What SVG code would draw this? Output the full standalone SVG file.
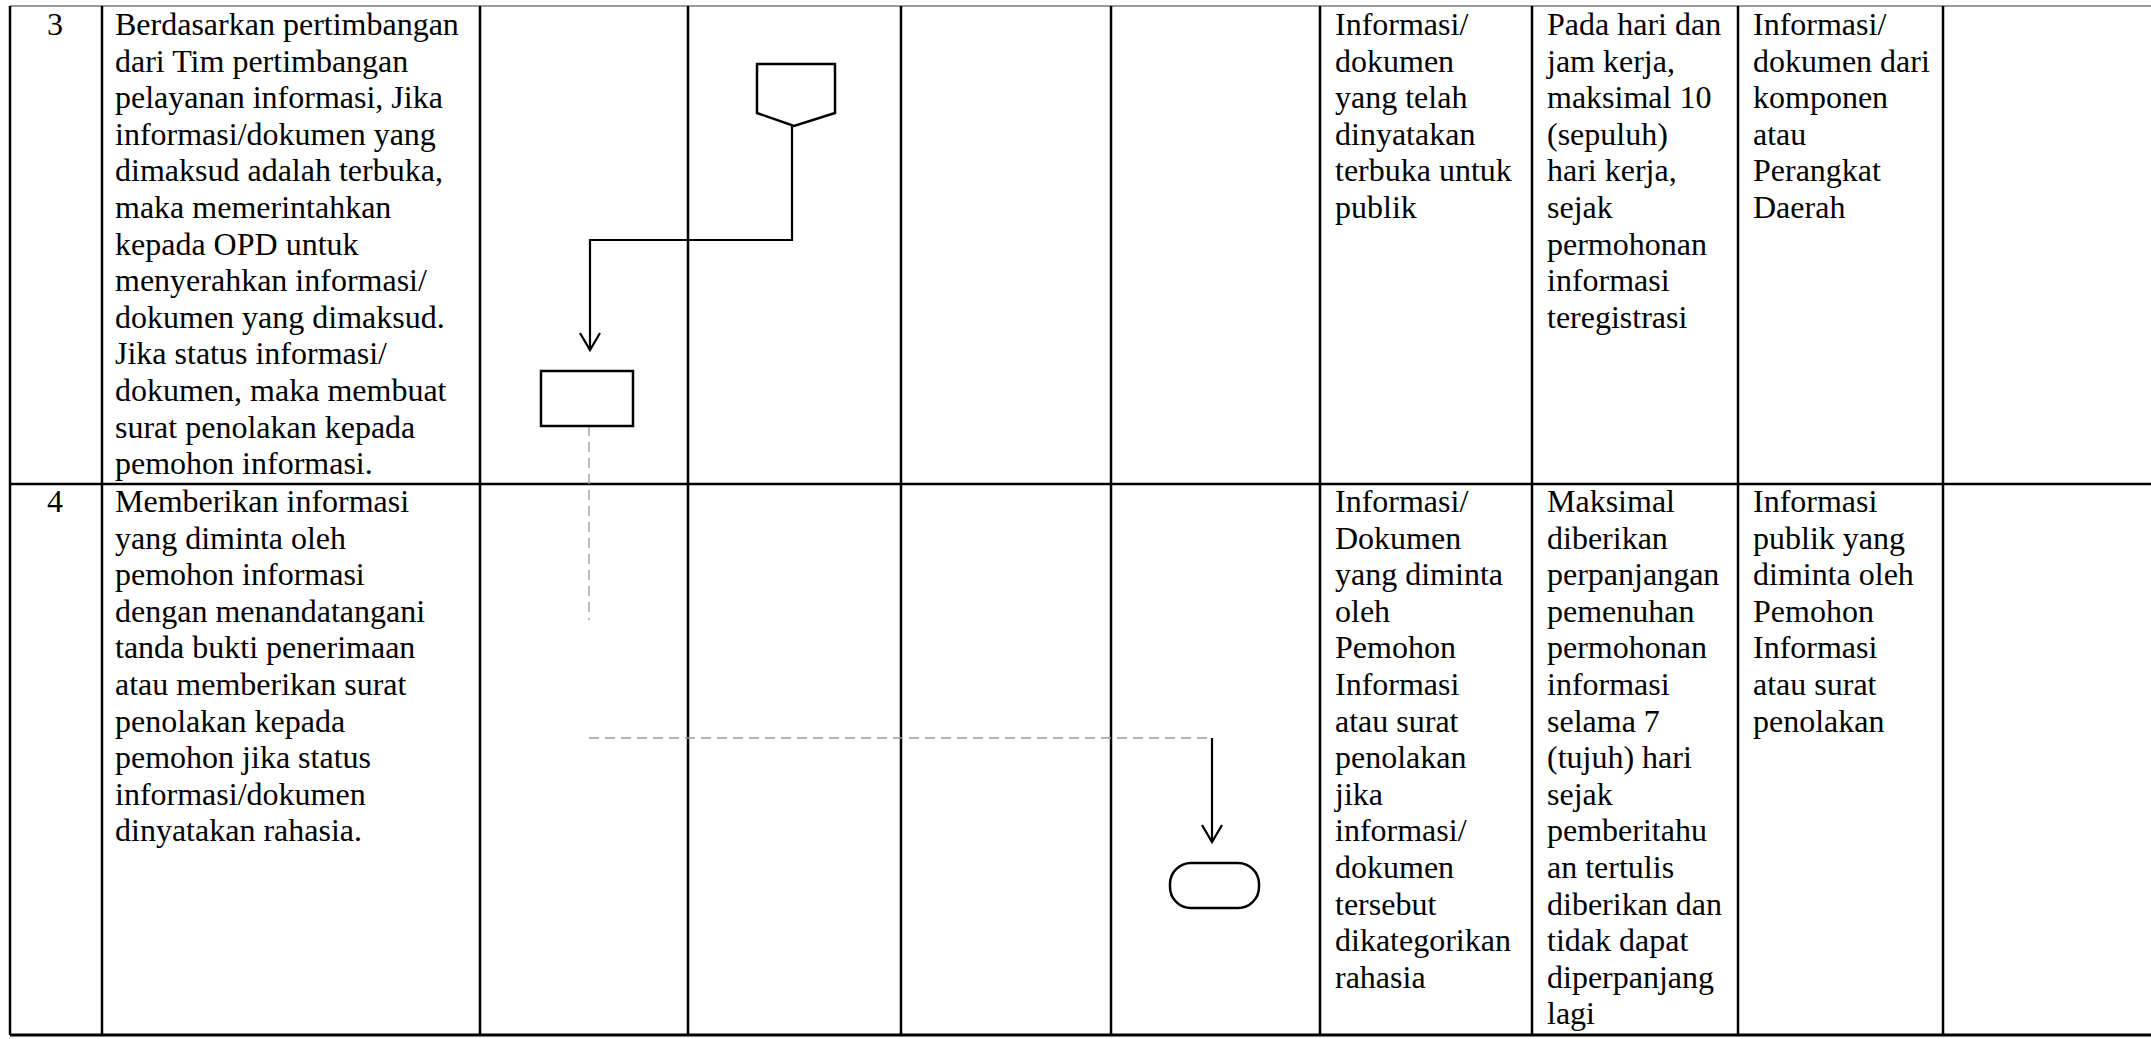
<svg xmlns="http://www.w3.org/2000/svg" width="2151" height="1039" viewBox="0 0 2151 1039">
<style>
  .grid{stroke:#000;stroke-width:2.5;fill:none}
  .top{stroke:#777;stroke-width:1.5;fill:none}
  .t{font-family:"Liberation Serif","Times New Roman",serif;font-size:32px;fill:#000}
  .num{text-anchor:middle}
  .shape{fill:#fff;stroke:#000;stroke-width:2.5}
  .conn{stroke:#000;stroke-width:2.2;fill:none}
  .faint{stroke:#999;stroke-width:1.3;fill:none;stroke-dasharray:10 6}
</style>
<defs>
  <marker id="arr" markerWidth="24" markerHeight="24" refX="20" refY="11" orient="auto" markerUnits="userSpaceOnUse">
    <path d="M3,1 L20,11 L3,21" fill="none" stroke="#000" stroke-width="2.2"/>
  </marker>
</defs>
<rect width="2151" height="1039" fill="#fff"/>

<g id="table">
  <line class="top" x1="10" y1="6" x2="2151" y2="6"/>
  <line class="grid" x1="10" y1="484" x2="2151" y2="484"/>
  <line class="grid" x1="10" y1="1035" x2="2151" y2="1035" style="stroke-width:3"/>
  <line class="grid" x1="10" y1="6" x2="10" y2="1035"/>
  <line class="grid" x1="102" y1="6" x2="102" y2="1035"/>
  <line class="grid" x1="480" y1="6" x2="480" y2="1035"/>
  <line class="grid" x1="688" y1="6" x2="688" y2="1035"/>
  <line class="grid" x1="901" y1="6" x2="901" y2="1035"/>
  <line class="grid" x1="1111" y1="6" x2="1111" y2="1035"/>
  <line class="grid" x1="1320" y1="6" x2="1320" y2="1035"/>
  <line class="grid" x1="1532" y1="6" x2="1532" y2="1035"/>
  <line class="grid" x1="1738" y1="6" x2="1738" y2="1035"/>
  <line class="grid" x1="1943" y1="6" x2="1943" y2="1035"/>
</g>

<g id="row3-text">
  <text class="t num" x="55" y="35">3</text>
  <text class="t" x="115" y="35">
    <tspan x="115">Berdasarkan pertimbangan</tspan>
    <tspan x="115" dy="36.6">dari Tim pertimbangan</tspan>
    <tspan x="115" dy="36.6">pelayanan informasi, Jika</tspan>
    <tspan x="115" dy="36.6">informasi/dokumen yang</tspan>
    <tspan x="115" dy="36.6">dimaksud adalah terbuka,</tspan>
    <tspan x="115" dy="36.6">maka memerintahkan</tspan>
    <tspan x="115" dy="36.6">kepada OPD untuk</tspan>
    <tspan x="115" dy="36.6">menyerahkan informasi/</tspan>
    <tspan x="115" dy="36.6">dokumen yang dimaksud.</tspan>
    <tspan x="115" dy="36.6">Jika status informasi/</tspan>
    <tspan x="115" dy="36.6">dokumen, maka membuat</tspan>
    <tspan x="115" dy="36.6">surat penolakan kepada</tspan>
    <tspan x="115" dy="36.6">pemohon informasi.</tspan>
  </text>
  <text class="t" x="1335" y="35">
    <tspan x="1335">Informasi/</tspan>
    <tspan x="1335" dy="36.6">dokumen</tspan>
    <tspan x="1335" dy="36.6">yang telah</tspan>
    <tspan x="1335" dy="36.6">dinyatakan</tspan>
    <tspan x="1335" dy="36.6">terbuka untuk</tspan>
    <tspan x="1335" dy="36.6">publik</tspan>
  </text>
  <text class="t" x="1547" y="35">
    <tspan x="1547">Pada hari dan</tspan>
    <tspan x="1547" dy="36.6">jam kerja,</tspan>
    <tspan x="1547" dy="36.6">maksimal 10</tspan>
    <tspan x="1547" dy="36.6">(sepuluh)</tspan>
    <tspan x="1547" dy="36.6">hari kerja,</tspan>
    <tspan x="1547" dy="36.6">sejak</tspan>
    <tspan x="1547" dy="36.6">permohonan</tspan>
    <tspan x="1547" dy="36.6">informasi</tspan>
    <tspan x="1547" dy="36.6">teregistrasi</tspan>
  </text>
  <text class="t" x="1753" y="35">
    <tspan x="1753">Informasi/</tspan>
    <tspan x="1753" dy="36.6">dokumen dari</tspan>
    <tspan x="1753" dy="36.6">komponen</tspan>
    <tspan x="1753" dy="36.6">atau</tspan>
    <tspan x="1753" dy="36.6">Perangkat</tspan>
    <tspan x="1753" dy="36.6">Daerah</tspan>
  </text>
</g>

<g id="row4-text">
  <text class="t num" x="55" y="512">4</text>
  <text class="t" x="115" y="512">
    <tspan x="115">Memberikan informasi</tspan>
    <tspan x="115" dy="36.6">yang diminta oleh</tspan>
    <tspan x="115" dy="36.6">pemohon informasi</tspan>
    <tspan x="115" dy="36.6">dengan menandatangani</tspan>
    <tspan x="115" dy="36.6">tanda bukti penerimaan</tspan>
    <tspan x="115" dy="36.6">atau memberikan surat</tspan>
    <tspan x="115" dy="36.6">penolakan kepada</tspan>
    <tspan x="115" dy="36.6">pemohon jika status</tspan>
    <tspan x="115" dy="36.6">informasi/dokumen</tspan>
    <tspan x="115" dy="36.6">dinyatakan rahasia.</tspan>
  </text>
  <text class="t" x="1335" y="512">
    <tspan x="1335">Informasi/</tspan>
    <tspan x="1335" dy="36.6">Dokumen</tspan>
    <tspan x="1335" dy="36.6">yang diminta</tspan>
    <tspan x="1335" dy="36.6">oleh</tspan>
    <tspan x="1335" dy="36.6">Pemohon</tspan>
    <tspan x="1335" dy="36.6">Informasi</tspan>
    <tspan x="1335" dy="36.6">atau surat</tspan>
    <tspan x="1335" dy="36.6">penolakan</tspan>
    <tspan x="1335" dy="36.6">jika</tspan>
    <tspan x="1335" dy="36.6">informasi/</tspan>
    <tspan x="1335" dy="36.6">dokumen</tspan>
    <tspan x="1335" dy="36.6">tersebut</tspan>
    <tspan x="1335" dy="36.6">dikategorikan</tspan>
    <tspan x="1335" dy="36.6">rahasia</tspan>
  </text>
  <text class="t" x="1547" y="512">
    <tspan x="1547">Maksimal</tspan>
    <tspan x="1547" dy="36.6">diberikan</tspan>
    <tspan x="1547" dy="36.6">perpanjangan</tspan>
    <tspan x="1547" dy="36.6">pemenuhan</tspan>
    <tspan x="1547" dy="36.6">permohonan</tspan>
    <tspan x="1547" dy="36.6">informasi</tspan>
    <tspan x="1547" dy="36.6">selama 7</tspan>
    <tspan x="1547" dy="36.6">(tujuh) hari</tspan>
    <tspan x="1547" dy="36.6">sejak</tspan>
    <tspan x="1547" dy="36.6">pemberitahu</tspan>
    <tspan x="1547" dy="36.6">an tertulis</tspan>
    <tspan x="1547" dy="36.6">diberikan dan</tspan>
    <tspan x="1547" dy="36.6">tidak dapat</tspan>
    <tspan x="1547" dy="36.6">diperpanjang</tspan>
    <tspan x="1547" dy="36.6">lagi</tspan>
  </text>
  <text class="t" x="1753" y="512">
    <tspan x="1753">Informasi</tspan>
    <tspan x="1753" dy="36.6">publik yang</tspan>
    <tspan x="1753" dy="36.6">diminta oleh</tspan>
    <tspan x="1753" dy="36.6">Pemohon</tspan>
    <tspan x="1753" dy="36.6">Informasi</tspan>
    <tspan x="1753" dy="36.6">atau surat</tspan>
    <tspan x="1753" dy="36.6">penolakan</tspan>
  </text>
</g>

<g id="connectors">
  <path class="conn" d="M792,126 V240 H590 V350" marker-end="url(#arr)"/>
  <path class="faint" d="M589,426 V620"/>
  <path class="faint" d="M589,738 H1212"/>
  <path class="conn" d="M1212,738 V842" marker-end="url(#arr)"/>
</g>

<g id="node-offpage">
  <polygon class="shape" points="757,64 835,64 835,113 794,126 757,113"/>
</g>
<g id="node-process">
  <rect class="shape" x="541" y="371" width="92" height="55"/>
</g>
<g id="node-terminator">
  <rect class="shape" x="1170" y="863" width="89" height="45" rx="21" ry="21"/>
</g>
</svg>
